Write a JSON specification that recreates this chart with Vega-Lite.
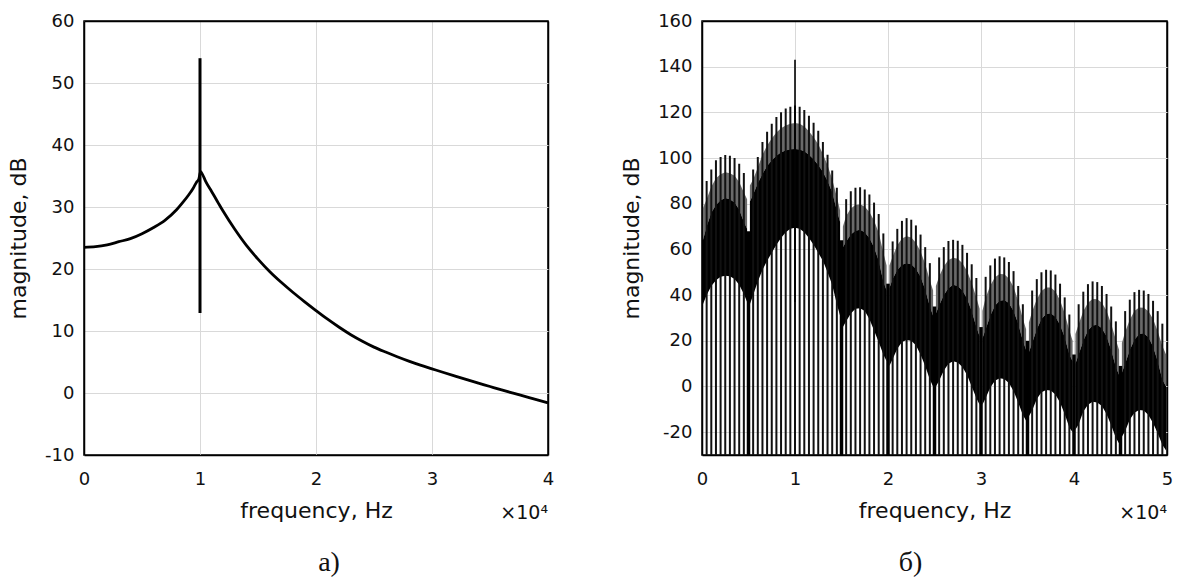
{
  "$schema": "https://vega.github.io/schema/vega-lite/v6.json",
  "padding": {"left": 6, "top": 11, "right": 5, "bottom": 5},
  "background": "white",
  "bounds": "flush",
  "spacing": 154,
  "datasets": {
    "left": [
      {"f": 0, "v": 23.5}, {"f": 1000, "v": 23.6}, {"f": 2000, "v": 23.9}, {"f": 3000, "v": 24.4},
      {"f": 4000, "v": 24.9}, {"f": 5000, "v": 25.7}, {"f": 6000, "v": 26.7}, {"f": 7000, "v": 27.9},
      {"f": 8000, "v": 29.6}, {"f": 8500, "v": 30.7}, {"f": 9000, "v": 31.9}, {"f": 9400, "v": 33.0},
      {"f": 9700, "v": 34.0}, {"f": 9900, "v": 34.5}, {"f": 10050, "v": 35.7}, {"f": 10200, "v": 35.3},
      {"f": 10500, "v": 34.1}, {"f": 11000, "v": 32.5}, {"f": 11500, "v": 30.9}, {"f": 12000, "v": 29.3},
      {"f": 13000, "v": 26.4}, {"f": 14000, "v": 23.8}, {"f": 15000, "v": 21.6}, {"f": 16000, "v": 19.6},
      {"f": 17000, "v": 17.85}, {"f": 18000, "v": 16.25}, {"f": 19000, "v": 14.75}, {"f": 20000, "v": 13.3},
      {"f": 21000, "v": 11.9}, {"f": 22000, "v": 10.6}, {"f": 23000, "v": 9.4}, {"f": 24000, "v": 8.35},
      {"f": 25000, "v": 7.4}, {"f": 26000, "v": 6.6}, {"f": 27000, "v": 5.85}, {"f": 28000, "v": 5.15},
      {"f": 29000, "v": 4.5}, {"f": 30000, "v": 3.9}, {"f": 31000, "v": 3.3}, {"f": 32000, "v": 2.72},
      {"f": 33000, "v": 2.15}, {"f": 34000, "v": 1.6}, {"f": 35000, "v": 1.05}, {"f": 36000, "v": 0.5},
      {"f": 37000, "v": -0.03}, {"f": 38000, "v": -0.55}, {"f": 39000, "v": -1.07}, {"f": 40000, "v": -1.6}
    ],
    "leftSpike": [{"f": 10000, "lo": 12.9, "hi": 54}],
    "leftExp": [{"f": 40000, "v": -10, "label": "×10⁴"}],
    "rightExp": [{"f": 50000, "v": -30, "label": "×10⁴"}],
    "rightSpike": [{"f": 10000, "lo": 37, "hi": 143}],
    "nulls": [
      {"f": 5000, "mid": 68}, {"f": 15000, "mid": 64}, {"f": 20000, "mid": 45}, {"f": 25000, "mid": 35},
      {"f": 30000, "mid": 26}, {"f": 35000, "mid": 20}, {"f": 40000, "mid": 14}, {"f": 45000, "mid": 9}
    ],
    "comb": [
      {"f": 100, "lobe": 1, "k": "e", "grey": 78, "mid": 64, "low": 36},
      {"f": 500, "lobe": 1, "k": "c", "top": 90, "grey": 82, "mid": 70, "low": 40},
      {"f": 1000, "lobe": 1, "k": "c", "top": 95, "grey": 87.4, "mid": 76, "low": 44},
      {"f": 1500, "lobe": 1, "k": "c", "top": 99, "grey": 91.2, "mid": 79.5, "low": 46.5},
      {"f": 2000, "lobe": 1, "k": "c", "top": 100.5, "grey": 92.9, "mid": 81.5, "low": 48},
      {"f": 2500, "lobe": 1, "k": "c", "top": 101.3, "grey": 93.8, "mid": 82.5, "low": 48.5},
      {"f": 3000, "lobe": 1, "k": "c", "top": 101, "grey": 93.4, "mid": 82, "low": 48.3},
      {"f": 3500, "lobe": 1, "k": "c", "top": 100, "grey": 92.2, "mid": 80.5, "low": 47},
      {"f": 4000, "lobe": 1, "k": "c", "top": 97.5, "grey": 89.5, "mid": 77.5, "low": 44.5},
      {"f": 4500, "lobe": 1, "k": "c", "top": 93.5, "grey": 84.9, "mid": 72, "low": 40.5},
      {"f": 4850, "lobe": 1, "k": "e", "grey": 82, "mid": 69, "low": 37},

      {"f": 5150, "lobe": 2, "k": "e", "grey": 88, "mid": 81, "low": 36},
      {"f": 5500, "lobe": 2, "k": "c", "top": 95, "grey": 90.6, "mid": 84, "low": 40},
      {"f": 6000, "lobe": 2, "k": "c", "top": 100.5, "grey": 95.9, "mid": 89, "low": 46},
      {"f": 6500, "lobe": 2, "k": "c", "top": 107, "grey": 101.4, "mid": 93, "low": 51},
      {"f": 7000, "lobe": 2, "k": "c", "top": 111.5, "grey": 105.5, "mid": 96.5, "low": 55},
      {"f": 7500, "lobe": 2, "k": "c", "top": 115, "grey": 108.6, "mid": 99, "low": 58.5},
      {"f": 8000, "lobe": 2, "k": "c", "top": 118, "grey": 111.2, "mid": 101, "low": 62},
      {"f": 8500, "lobe": 2, "k": "c", "top": 120, "grey": 113, "mid": 102.5, "low": 65},
      {"f": 9000, "lobe": 2, "k": "c", "top": 121.7, "grey": 114.3, "mid": 103.3, "low": 67.5},
      {"f": 9500, "lobe": 2, "k": "c", "top": 122.5, "grey": 115, "mid": 103.8, "low": 69},
      {"f": 10000, "lobe": 2, "k": "c", "top": 123, "grey": 115.4, "mid": 104, "low": 69.5},
      {"f": 10500, "lobe": 2, "k": "c", "top": 122.5, "grey": 115, "mid": 103.7, "low": 69},
      {"f": 11000, "lobe": 2, "k": "c", "top": 121, "grey": 113.8, "mid": 103, "low": 67.5},
      {"f": 11500, "lobe": 2, "k": "c", "top": 118.5, "grey": 111.7, "mid": 101.5, "low": 65},
      {"f": 12000, "lobe": 2, "k": "c", "top": 115.5, "grey": 109.1, "mid": 99.5, "low": 62},
      {"f": 12500, "lobe": 2, "k": "c", "top": 112, "grey": 106, "mid": 97, "low": 58.5},
      {"f": 13000, "lobe": 2, "k": "c", "top": 107, "grey": 101.8, "mid": 94, "low": 55},
      {"f": 13500, "lobe": 2, "k": "c", "top": 101.5, "grey": 96.9, "mid": 90, "low": 50},
      {"f": 14000, "lobe": 2, "k": "c", "top": 94.5, "grey": 90.7, "mid": 85, "low": 44.5},
      {"f": 14500, "lobe": 2, "k": "c", "top": 87, "grey": 83, "mid": 77, "low": 36},
      {"f": 14850, "lobe": 2, "k": "e", "grey": 77, "mid": 72, "low": 31},

      {"f": 15150, "lobe": 3, "k": "e", "grey": 70, "mid": 61, "low": 26},
      {"f": 15500, "lobe": 3, "k": "c", "top": 82, "grey": 74.6, "mid": 63.5, "low": 28.5},
      {"f": 16000, "lobe": 3, "k": "c", "top": 85.5, "grey": 77.9, "mid": 66.5, "low": 32},
      {"f": 16500, "lobe": 3, "k": "c", "top": 87, "grey": 79.5, "mid": 68.2, "low": 34},
      {"f": 17000, "lobe": 3, "k": "c", "top": 87.2, "grey": 79.8, "mid": 68.6, "low": 34.2},
      {"f": 17500, "lobe": 3, "k": "c", "top": 86.2, "grey": 78.7, "mid": 67.5, "low": 33},
      {"f": 18000, "lobe": 3, "k": "c", "top": 84, "grey": 76.4, "mid": 65, "low": 29.5},
      {"f": 18500, "lobe": 3, "k": "c", "top": 80.5, "grey": 72.7, "mid": 61, "low": 24.5},
      {"f": 19000, "lobe": 3, "k": "c", "top": 75.5, "grey": 67.3, "mid": 55, "low": 19.5},
      {"f": 19500, "lobe": 3, "k": "c", "top": 67, "grey": 58.6, "mid": 46, "low": 14},
      {"f": 19850, "lobe": 3, "k": "e", "grey": 53, "mid": 42, "low": 11},

      {"f": 20150, "lobe": 4, "k": "e", "grey": 53, "mid": 43, "low": 9},
      {"f": 20500, "lobe": 4, "k": "c", "top": 63.5, "grey": 56.9, "mid": 47, "low": 12},
      {"f": 21000, "lobe": 4, "k": "c", "top": 69, "grey": 61.8, "mid": 51, "low": 16.5},
      {"f": 21500, "lobe": 4, "k": "c", "top": 72.5, "grey": 64.8, "mid": 53.3, "low": 19.5},
      {"f": 22000, "lobe": 4, "k": "c", "top": 73.7, "grey": 65.8, "mid": 54, "low": 20.4},
      {"f": 22500, "lobe": 4, "k": "c", "top": 73, "grey": 65.2, "mid": 53.5, "low": 20},
      {"f": 23000, "lobe": 4, "k": "c", "top": 70.5, "grey": 62.9, "mid": 51.5, "low": 18},
      {"f": 23500, "lobe": 4, "k": "c", "top": 66.5, "grey": 59.1, "mid": 48, "low": 14},
      {"f": 24000, "lobe": 4, "k": "c", "top": 61, "grey": 53.6, "mid": 42.5, "low": 9},
      {"f": 24500, "lobe": 4, "k": "c", "top": 54, "grey": 46.4, "mid": 35, "low": 3},
      {"f": 24850, "lobe": 4, "k": "e", "grey": 42, "mid": 31, "low": 0},

      {"f": 25150, "lobe": 5, "k": "e", "grey": 44, "mid": 32, "low": 0},
      {"f": 25500, "lobe": 5, "k": "c", "top": 56.5, "grey": 48.1, "mid": 35.5, "low": 2.5},
      {"f": 26000, "lobe": 5, "k": "c", "top": 61, "grey": 52.6, "mid": 40, "low": 7},
      {"f": 26500, "lobe": 5, "k": "c", "top": 63.7, "grey": 55.4, "mid": 43, "low": 10},
      {"f": 27000, "lobe": 5, "k": "c", "top": 64.2, "grey": 56.3, "mid": 44.5, "low": 11},
      {"f": 27500, "lobe": 5, "k": "c", "top": 63.8, "grey": 55.9, "mid": 44, "low": 10.5},
      {"f": 28000, "lobe": 5, "k": "c", "top": 62, "grey": 54, "mid": 42, "low": 8.5},
      {"f": 28500, "lobe": 5, "k": "c", "top": 58.5, "grey": 50.5, "mid": 38.5, "low": 5},
      {"f": 29000, "lobe": 5, "k": "c", "top": 53.5, "grey": 45.3, "mid": 33, "low": 0},
      {"f": 29500, "lobe": 5, "k": "c", "top": 47.5, "grey": 38.9, "mid": 26, "low": -5},
      {"f": 29850, "lobe": 5, "k": "e", "grey": 34, "mid": 22, "low": -8},

      {"f": 30150, "lobe": 6, "k": "e", "grey": 33, "mid": 21, "low": -8},
      {"f": 30500, "lobe": 6, "k": "c", "top": 48, "grey": 38.8, "mid": 25, "low": -5},
      {"f": 31000, "lobe": 6, "k": "c", "top": 53, "grey": 44.2, "mid": 31, "low": -0.5},
      {"f": 31500, "lobe": 6, "k": "c", "top": 56, "grey": 47.8, "mid": 35.5, "low": 2.5},
      {"f": 32000, "lobe": 6, "k": "c", "top": 57, "grey": 49.2, "mid": 37.5, "low": 3.6},
      {"f": 32500, "lobe": 6, "k": "c", "top": 56.5, "grey": 49.1, "mid": 37.9, "low": 3.3},
      {"f": 33000, "lobe": 6, "k": "c", "top": 54.5, "grey": 47.3, "mid": 36.5, "low": 1.5},
      {"f": 33500, "lobe": 6, "k": "c", "top": 50.5, "grey": 43.5, "mid": 33, "low": -2},
      {"f": 34000, "lobe": 6, "k": "c", "top": 44, "grey": 37.4, "mid": 27.5, "low": -7},
      {"f": 34500, "lobe": 6, "k": "c", "top": 36, "grey": 29.6, "mid": 20, "low": -12.5},
      {"f": 34850, "lobe": 6, "k": "e", "grey": 25, "mid": 16, "low": -15},

      {"f": 35150, "lobe": 7, "k": "e", "grey": 28, "mid": 15, "low": -13},
      {"f": 35500, "lobe": 7, "k": "c", "top": 42, "grey": 32.8, "mid": 19, "low": -10.5},
      {"f": 36000, "lobe": 7, "k": "c", "top": 47, "grey": 38.2, "mid": 25, "low": -5.5},
      {"f": 36500, "lobe": 7, "k": "c", "top": 50, "grey": 41.8, "mid": 29.5, "low": -2.5},
      {"f": 37000, "lobe": 7, "k": "c", "top": 51.1, "grey": 43.3, "mid": 31.7, "low": -1.5},
      {"f": 37500, "lobe": 7, "k": "c", "top": 50.8, "grey": 43.3, "mid": 32.1, "low": -1.8},
      {"f": 38000, "lobe": 7, "k": "c", "top": 49, "grey": 41.6, "mid": 30.5, "low": -3.5},
      {"f": 38500, "lobe": 7, "k": "c", "top": 45, "grey": 37.8, "mid": 27, "low": -7},
      {"f": 39000, "lobe": 7, "k": "c", "top": 39, "grey": 32, "mid": 21.5, "low": -12},
      {"f": 39500, "lobe": 7, "k": "c", "top": 31.5, "grey": 24.5, "mid": 14, "low": -18},
      {"f": 39850, "lobe": 7, "k": "e", "grey": 20, "mid": 11, "low": -20},

      {"f": 40150, "lobe": 8, "k": "e", "grey": 23, "mid": 10, "low": -19},
      {"f": 40500, "lobe": 8, "k": "c", "top": 36, "grey": 27.2, "mid": 14, "low": -16.5},
      {"f": 41000, "lobe": 8, "k": "c", "top": 41.5, "grey": 32.9, "mid": 20, "low": -11},
      {"f": 41500, "lobe": 8, "k": "c", "top": 44.8, "grey": 36.7, "mid": 24.5, "low": -8},
      {"f": 42000, "lobe": 8, "k": "c", "top": 46, "grey": 38.3, "mid": 26.7, "low": -6.7},
      {"f": 42500, "lobe": 8, "k": "c", "top": 45.7, "grey": 38.2, "mid": 27, "low": -7},
      {"f": 43000, "lobe": 8, "k": "c", "top": 44, "grey": 36.6, "mid": 25.5, "low": -8.5},
      {"f": 43500, "lobe": 8, "k": "c", "top": 40.5, "grey": 33.1, "mid": 22, "low": -12},
      {"f": 44000, "lobe": 8, "k": "c", "top": 35, "grey": 27.4, "mid": 16, "low": -17},
      {"f": 44500, "lobe": 8, "k": "c", "top": 28.5, "grey": 20.5, "mid": 8.5, "low": -22.5},
      {"f": 44850, "lobe": 8, "k": "e", "grey": 16, "mid": 5, "low": -25},

      {"f": 45150, "lobe": 9, "k": "e", "grey": 19, "mid": 6, "low": -22},
      {"f": 45500, "lobe": 9, "k": "c", "top": 33, "grey": 23.8, "mid": 10, "low": -19.5},
      {"f": 46000, "lobe": 9, "k": "c", "top": 38, "grey": 29.2, "mid": 16, "low": -14.5},
      {"f": 46500, "lobe": 9, "k": "c", "top": 41.3, "grey": 33, "mid": 20.5, "low": -11.5},
      {"f": 47000, "lobe": 9, "k": "c", "top": 42.3, "grey": 34.6, "mid": 23, "low": -10.3},
      {"f": 47500, "lobe": 9, "k": "c", "top": 42, "grey": 34.5, "mid": 23.3, "low": -10.5},
      {"f": 48000, "lobe": 9, "k": "c", "top": 40.5, "grey": 32.9, "mid": 21.5, "low": -12.5},
      {"f": 48500, "lobe": 9, "k": "c", "top": 37.5, "grey": 29.5, "mid": 17.5, "low": -16},
      {"f": 49000, "lobe": 9, "k": "c", "top": 33, "grey": 24.2, "mid": 11, "low": -20.5},
      {"f": 49500, "lobe": 9, "k": "c", "top": 27.5, "grey": 17.7, "mid": 3, "low": -25.5},
      {"f": 49900, "lobe": 9, "k": "e", "grey": 14, "mid": 0, "low": -28}
    ]
  },
  "config": {
    "view": {"stroke": "#000", "strokeWidth": 1.5},
    "axis": {
      "labelFont": "DejaVu Sans", "labelFontSize": 18, "labelColor": "#111", "labelFlush": false,
      "titleFont": "DejaVu Sans", "titleFontSize": 22, "titleFontWeight": "normal", "titleColor": "#111",
      "gridWidth": 1, "domainColor": "#000", "domainWidth": 1.5,
      "ticks": false, "tickSize": 0
    },
    "axisX": {"labelPadding": 15, "titlePadding": 12},
    "axisY": {"labelPadding": 10, "titlePadding": 14},
    "title": {"font": "Liberation Serif", "fontSize": 28, "fontWeight": "normal", "color": "#111", "orient": "bottom", "offset": 26}
  },
  "hconcat": [
    {
      "width": 464,
      "height": 434,
      "title": {"text": "а)", "orient": "bottom", "dx": 13},
      "layer": [
        {
          "data": {"name": "left"},
          "mark": {"type": "line", "color": "#000", "strokeWidth": 2.8, "interpolate": "monotone"},
          "encoding": {
            "x": {"field": "f", "type": "quantitative", "title": "frequency, Hz",
                  "scale": {"domain": [0, 40000], "nice": false},
                  "axis": {"values": [0, 10000, 20000, 30000, 40000], "labelExpr": "'' + (datum.value / 10000)",
                           "gridColor": {"condition": {"test": "datum.value === 40000", "value": "#000"}, "value": "#d9d9d9"},
                           "gridWidth": {"condition": {"test": "datum.value === 40000", "value": 1.5}, "value": 1}}},
            "y": {"field": "v", "type": "quantitative", "title": "magnitude, dB",
                  "scale": {"domain": [-10, 60], "nice": false, "zero": false},
                  "axis": {"values": [-10, 0, 10, 20, 30, 40, 50, 60], "labelExpr": "'' + datum.value",
                           "gridColor": {"condition": {"test": "datum.value === 60", "value": "#000"}, "value": "#d9d9d9"},
                           "gridWidth": {"condition": {"test": "datum.value === 60", "value": 1.5}, "value": 1}}}
          }
        },
        {
          "data": {"name": "leftSpike"},
          "mark": {"type": "rule", "color": "#000", "strokeWidth": 3},
          "encoding": {
            "x": {"field": "f", "type": "quantitative"},
            "y": {"field": "lo", "type": "quantitative"},
            "y2": {"field": "hi"}
          }
        },
        {
          "data": {"name": "leftExp"},
          "mark": {"type": "text", "align": "right", "baseline": "alphabetic", "dy": 64, "font": "DejaVu Sans", "fontSize": 19, "color": "#111"},
          "encoding": {
            "x": {"field": "f", "type": "quantitative"},
            "y": {"field": "v", "type": "quantitative"},
            "text": {"field": "label"}
          }
        }
      ]
    },
    {
      "width": 465,
      "height": 434,
      "title": {"text": "б)", "orient": "bottom", "dx": -24},
      "layer": [
        {
          "data": {"name": "comb"},
          "mark": {"type": "area", "color": "#6a6a6a", "opacity": 1},
          "encoding": {
            "x": {"field": "f", "type": "quantitative", "title": "frequency, Hz",
                  "scale": {"domain": [0, 50000], "nice": false},
                  "axis": {"values": [0, 10000, 20000, 30000, 40000, 50000], "labelExpr": "'' + (datum.value / 10000)",
                           "gridColor": {"condition": {"test": "datum.value === 50000", "value": "#000"}, "value": "#d9d9d9"},
                           "gridWidth": {"condition": {"test": "datum.value === 50000", "value": 1.5}, "value": 1}}},
            "y": {"field": "mid", "type": "quantitative", "title": "magnitude, dB",
                  "scale": {"domain": [-30, 160], "nice": false, "zero": false},
                  "axis": {"values": [-20, 0, 20, 40, 60, 80, 100, 120, 140, 160], "labelExpr": "'' + datum.value",
                           "gridColor": {"condition": {"test": "datum.value === 160", "value": "#000"}, "value": "#d9d9d9"},
                           "gridWidth": {"condition": {"test": "datum.value === 160", "value": 1.5}, "value": 1}}},
            "y2": {"field": "grey"},
            "detail": {"field": "lobe"}
          }
        },
        {
          "data": {"name": "comb"},
          "mark": {"type": "area", "color": "#000", "opacity": 1},
          "encoding": {
            "x": {"field": "f", "type": "quantitative"},
            "y": {"field": "low", "type": "quantitative"},
            "y2": {"field": "mid"},
            "detail": {"field": "lobe"}
          }
        },
        {
          "data": {"name": "comb"},
          "transform": [{"filter": "datum.k == 'c'"}],
          "mark": {"type": "rule", "color": "#111", "strokeWidth": 2},
          "encoding": {
            "x": {"field": "f", "type": "quantitative"},
            "y": {"field": "top", "type": "quantitative"},
            "y2": {"datum": -30}
          }
        },
        {
          "data": {"name": "nulls"},
          "mark": {"type": "rule", "color": "#000", "strokeWidth": 3.5},
          "encoding": {
            "x": {"field": "f", "type": "quantitative"},
            "y": {"field": "mid", "type": "quantitative"},
            "y2": {"datum": -30}
          }
        },
        {
          "data": {"name": "rightSpike"},
          "mark": {"type": "rule", "color": "#000", "strokeWidth": 1.6},
          "encoding": {
            "x": {"field": "f", "type": "quantitative"},
            "y": {"field": "lo", "type": "quantitative"},
            "y2": {"field": "hi"}
          }
        },
        {
          "data": {"name": "rightExp"},
          "mark": {"type": "text", "align": "right", "baseline": "alphabetic", "dy": 64, "font": "DejaVu Sans", "fontSize": 19, "color": "#111"},
          "encoding": {
            "x": {"field": "f", "type": "quantitative"},
            "y": {"field": "v", "type": "quantitative"},
            "text": {"field": "label"}
          }
        }
      ]
    }
  ]
}
